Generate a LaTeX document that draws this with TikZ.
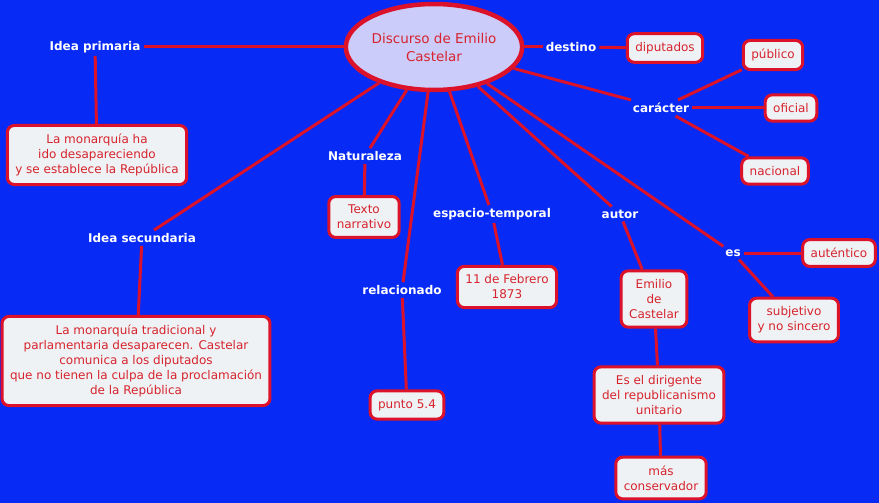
\documentclass[tikz,border=0pt]{standalone}
\usepackage{fontspec}
\setmainfont{DejaVu Sans}
\usetikzlibrary{shapes.geometric}
\definecolor{MapBlue}{RGB}{8,42,245}
\definecolor{MapRed}{RGB}{220,18,42}
\definecolor{TextRed}{RGB}{215,35,45}
\definecolor{BoxGrey}{RGB}{238,242,244}
\definecolor{Lavender}{RGB}{204,204,250}

\begin{document}
\begin{tikzpicture}[x=1pt, y=-1pt,
	box/.style={draw=MapRed, line width=3pt, rounded corners=7pt, fill=BoxGrey, text=TextRed,
		align=center, font=\fontsize{12}{15}\selectfont, inner xsep=8pt, inner ysep=8.5pt},
	lbl/.style={text=white, font=\fontsize{12}{14}\selectfont\bfseries, inner sep=3pt},
	link/.style={draw=MapRed, line width=3pt}]
	\fill[MapBlue] (0,0) rectangle (879,503);
	\useasboundingbox (0,0) rectangle (879,503);
	% central topic
	\node[ellipse, draw=MapRed, line width=4.5pt, fill=Lavender, minimum width=172pt, minimum height=86pt,
		inner sep=0pt, text=TextRed, align=center, font=\fontsize{13.5}{18}\selectfont] (topic) at (434,47) {Discurso de Emilio\\Castelar};
	% linking words
	\node[lbl] (ideaP) at (95,47) {Idea primaria};
	\node[lbl] (ideaS) at (142,238) {Idea secundaria};
	\node[lbl] (natur) at (365,156) {Naturaleza};
	\node[lbl] (relac) at (402,290) {relacionado};
	\node[lbl] (espac) at (492,214) {espacio-temporal};
	\node[lbl] (autor) at (620,214) {autor};
	\node[lbl] (es) at (733,253) {es};
	\node[lbl] (caract) at (661,108) {carácter};
	\node[lbl] (destino) at (571,47) {destino};
	% concepts
	\node[box] (monarq) at (97,155) {La monarquía ha\\ido desapareciendo\\y se establece la República};
	\node[box] (tradic) at (136,361) {La monarquía tradicional y\\parlamentaria desaparecen. Castelar\\comunica a los diputados\\que no tienen la culpa de la proclamación\\de la República};
	\node[box] (texto) at (364,217) {Texto\\narrativo};
	\node[box] (punto) at (407,405) {punto 5.4};
	\node[box] (fecha) at (507,287) {11 de Febrero\\1873};
	\node[box] (emilio) at (654,299) {Emilio\\de\\Castelar};
	\node[box] (dirig) at (659,395) {Es el dirigente\\del republicanismo\\unitario};
	\node[box] (conserv) at (661,478) {más\\conservador};
	\node[box] (autent) at (839,253) {auténtico};
	\node[box] (subjet) at (794,320) {subjetivo\\y no sincero};
	\node[box] (diput) at (665,48) {diputados};
	\node[box] (public) at (773,55) {público};
	\node[box] (ofic) at (791,108) {oficial};
	\node[box] (nacion) at (775,171) {nacional};
	% connectors
	\draw[link] (topic) -- (ideaP);
	\draw[link] (ideaP) -- (monarq);
	\draw[link] (topic) -- (ideaS);
	\draw[link] (ideaS) -- (tradic);
	\draw[link] (topic) -- (natur);
	\draw[link] (natur) -- (texto);
	\draw[link] (topic) -- (relac);
	\draw[link] (relac) -- (punto);
	\draw[link] (topic) -- (espac);
	\draw[link] (espac) -- (fecha);
	\draw[link] (topic) -- (autor);
	\draw[link] (autor) -- (emilio);
	\draw[link] (emilio) -- (dirig);
	\draw[link] (dirig) -- (conserv);
	\draw[link] (topic) -- (es);
	\draw[link] (es) -- (autent);
	\draw[link] (es) -- (subjet);
	\draw[link] (topic) -- (caract);
	\draw[link] (caract) -- (public);
	\draw[link] (caract) -- (ofic);
	\draw[link] (caract) -- (nacion);
	\draw[link] (topic) -- (destino);
	\draw[link] (destino) -- (diput);
\end{tikzpicture}
\end{document}
